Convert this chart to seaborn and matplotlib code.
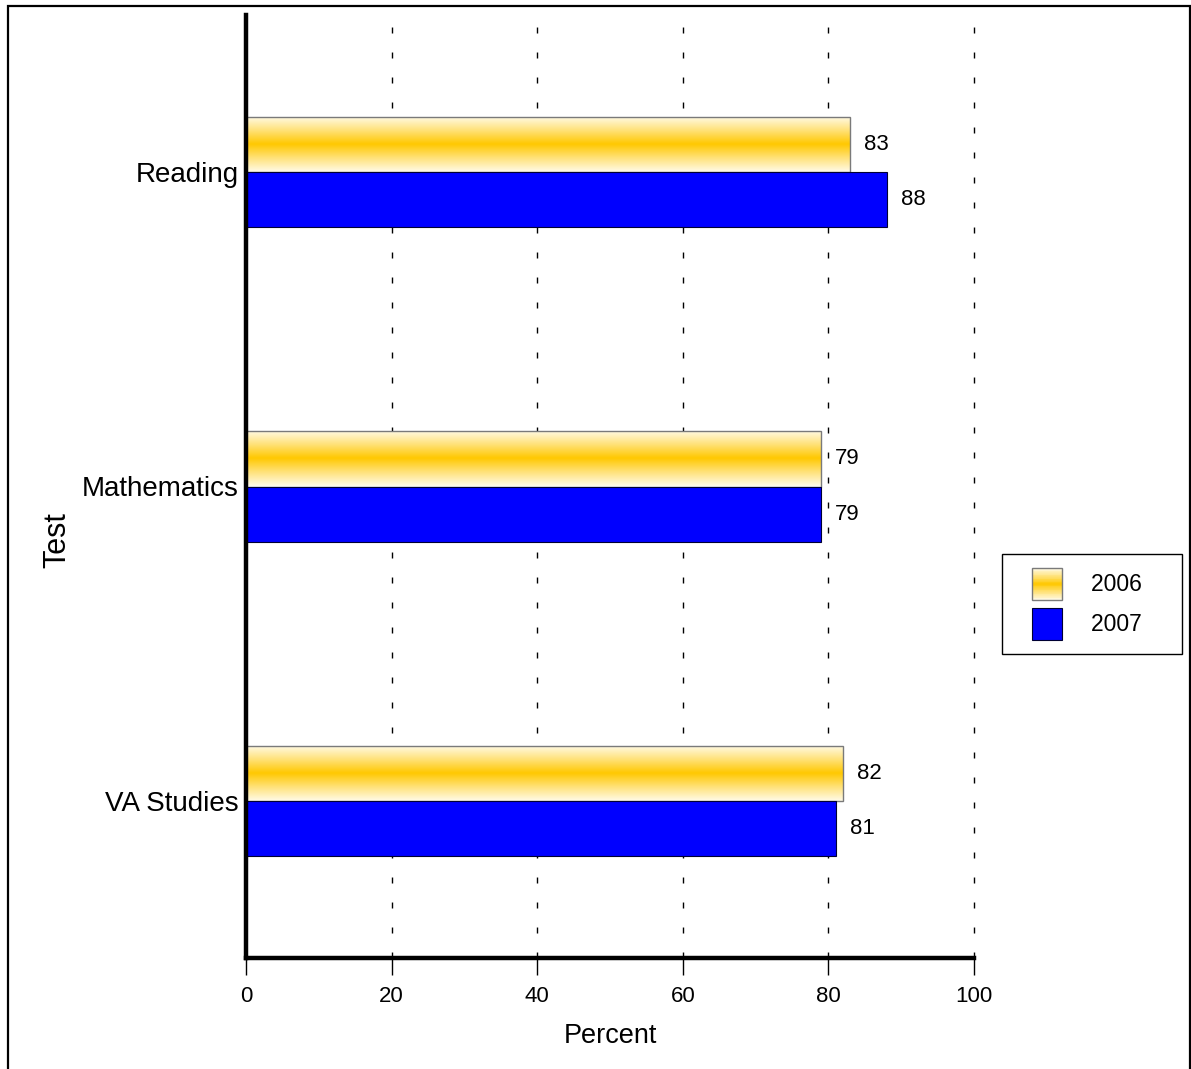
import numpy as np
import pandas as pd
import matplotlib
matplotlib.use("Agg")
import matplotlib.pyplot as plt
import seaborn as sns
from matplotlib.patches import Rectangle
from matplotlib.legend_handler import HandlerBase
from matplotlib.colors import LinearSegmentedColormap

tests = ["Reading", "Mathematics", "VA Studies"]
years = ["2006", "2007"]
pct_2006 = [83, 79, 82]
pct_2007 = [88, 79, 81]
x_ticks = [0, 20, 40, 60, 80, 100]

GOLD = "#FFC800"
BLUE = "#0000FF"

df = pd.DataFrame({
    "Test": tests * 2,
    "Year": [years[0]] * len(tests) + [years[1]] * len(tests),
    "Percent": pct_2006 + pct_2007,
})

sns.set_theme(style="white")
plt.rcParams["font.family"] = ["Liberation Sans", "DejaVu Sans"]
plt.rcParams["text.color"] = "black"
plt.rcParams["axes.labelcolor"] = "black"
plt.rcParams["xtick.color"] = "black"
plt.rcParams["ytick.color"] = "black"

fig = plt.figure(figsize=(11.91, 10.69), dpi=100)
ax = fig.add_axes([246 / 1191, 1 - 958 / 1069, (974 - 246) / 1191, (958 - 15) / 1069])

sns.barplot(data=df, y="Test", x="Percent", hue="Year", order=tests,
            hue_order=years, palette={years[0]: GOLD, years[1]: BLUE},
            orient="h", width=0.35, ax=ax, legend=False, saturation=1)

# gradient: pale at the bar edges, gold through the middle
grad_cmap = LinearSegmentedColormap.from_list(
    "goldband", ["#FFFBEA", "#FFE27A", GOLD, "#FFE27A", "#FFFBEA"])
grad = np.linspace(0, 1, 256).reshape(-1, 1)

n = len(tests)
bars = ax.patches
for i, bar in enumerate(bars):
    if i < n:
        bar.set_edgecolor("#7A7A7A")
        bar.set_linewidth(1.0)
        bar.set_facecolor("none")
        x0, y0 = bar.get_x(), bar.get_y()
        w, h = bar.get_width(), bar.get_height()
        im = ax.imshow(grad, cmap=grad_cmap, aspect="auto",
                       extent=(x0, x0 + w, y0 + h, y0), zorder=bar.get_zorder() - 0.1,
                       interpolation="bicubic")
        im.set_clip_path(bar)
    else:
        bar.set_edgecolor("#000033")
        bar.set_linewidth(0.8)

# value labels at bar ends
for i, bar in enumerate(bars):
    val = bar.get_width()
    yc = bar.get_y() + bar.get_height() / 2
    ax.annotate(f"{val:.0f}", xy=(val, yc), xytext=(10, 0), textcoords="offset points",
                ha="left", va="center", fontsize=16, color="black")

ax.set_xlim(0, 100)
ax.set_ylim(2.5, -0.5)
ax.set_xticks(x_ticks)
ax.set_xticklabels([str(t) for t in x_ticks], fontsize=16)
ax.tick_params(axis="x", direction="out", length=12, width=1, color="black", pad=8, bottom=True)
ax.tick_params(axis="y", length=0, pad=5, labelsize=20)

ax.set_axisbelow(True)
ax.xaxis.grid(True, color="black", linewidth=1.0, linestyle=(0, (4.3, 13.7)))
ax.yaxis.grid(False)
for tick in ax.xaxis.get_major_ticks():
    tick.gridline.set_clip_on(False)

for side in ["top", "right"]:
    ax.spines[side].set_visible(False)
for side in ["left", "bottom"]:
    ax.spines[side].set_color("black")
    ax.spines[side].set_linewidth(3.2)

ax.set_xlabel("Percent", fontsize=19.5, labelpad=12)
ax.set_ylabel("Test", fontsize=22)
ax.yaxis.set_label_coords((72 - 246) / 728, (958 - 540) / 943)


class GradientHandler(HandlerBase):
    def create_artists(self, legend, orig_handle, xdescent, ydescent, width, height,
                       fontsize, trans):
        pw = 21.6
        x0 = -xdescent + width - pw
        steps = 40
        arts = []
        for k in range(steps):
            c = grad_cmap((k + 0.5) / steps)
            arts.append(Rectangle((x0, -ydescent + height * k / steps), pw,
                                  height / steps + 0.05, facecolor=c, edgecolor="none",
                                  transform=trans))
        arts.append(Rectangle((x0, -ydescent), pw, height, facecolor="none",
                              edgecolor="#7A7A7A", linewidth=1.0, transform=trans))
        return arts


class SolidHandler(HandlerBase):
    def create_artists(self, legend, orig_handle, xdescent, ydescent, width, height,
                       fontsize, trans):
        pw = 21.6
        x0 = -xdescent + width - pw
        return [Rectangle((x0, -ydescent), pw, height, facecolor=BLUE,
                          edgecolor="#000033", linewidth=0.8, transform=trans)]


h06 = Rectangle((0, 0), 1, 1, facecolor=GOLD)
h07 = Rectangle((0, 0), 1, 1, facecolor=BLUE)
leg = fig.legend([h06, h07], [y + "    " for y in years], loc="upper left",
                 bbox_to_anchor=(1002 / 1191, 1 - 554 / 1069),
                 handler_map={h06: GradientHandler(), h07: SolidHandler()},
                 fontsize=16.5, frameon=True, fancybox=False, framealpha=1,
                 edgecolor="black", handlelength=2.0, handleheight=1.75,
                 handletextpad=1.27, borderpad=0.62, labelspacing=0.35, borderaxespad=0)
leg.get_frame().set_linewidth(1.0)

# outer frame
fig.patches.append(Rectangle((8 / 1191, -0.05), (1190 - 8) / 1191, 1.05 - 6 / 1069,
                             transform=fig.transFigure, fill=False,
                             edgecolor="black", linewidth=1.6))

fig.savefig("out.png", dpi=100, facecolor="white")
